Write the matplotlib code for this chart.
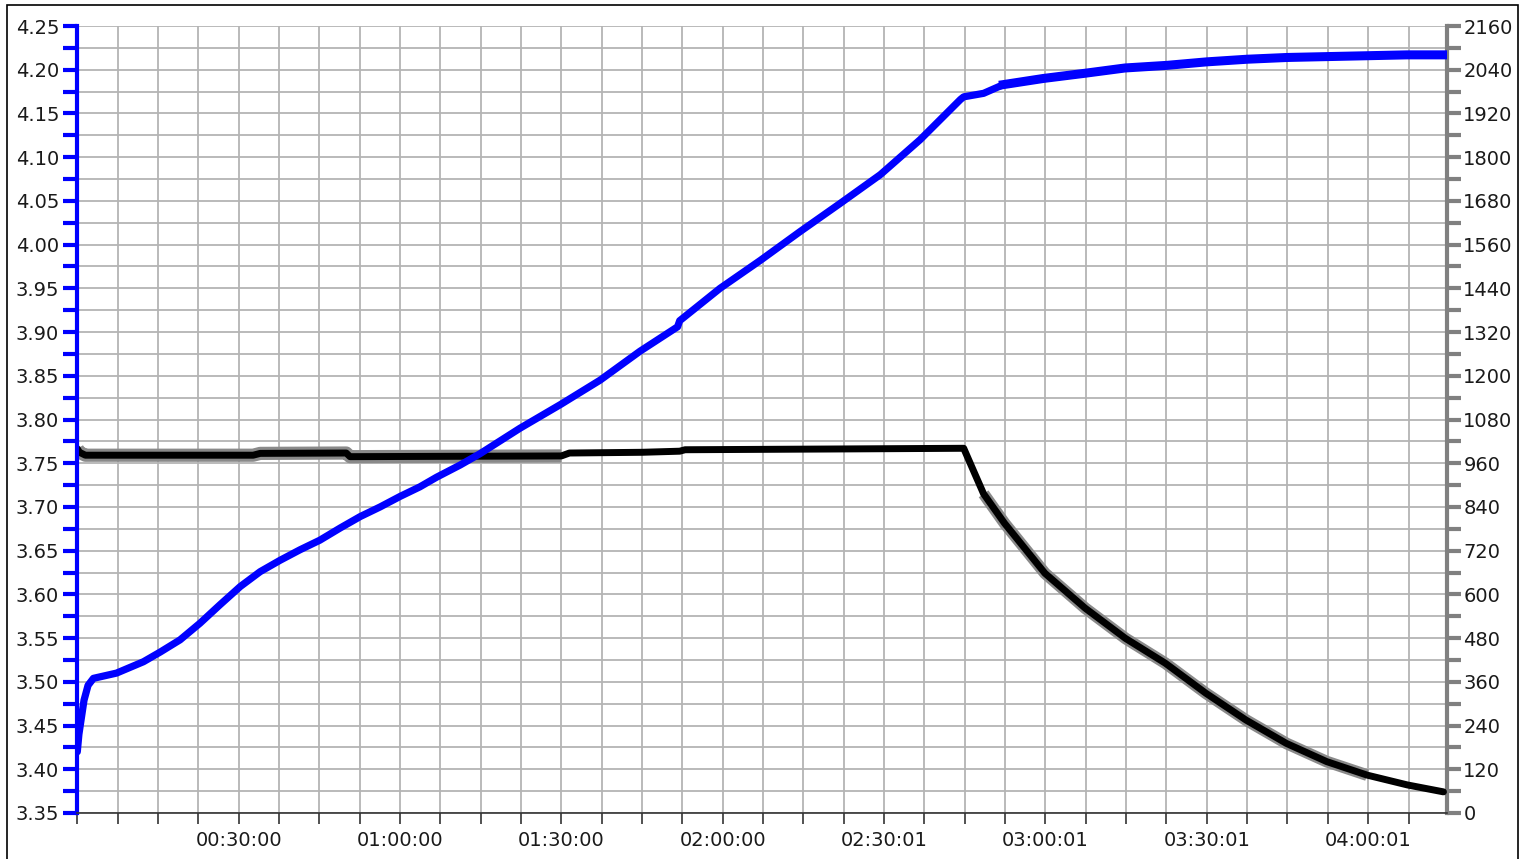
import matplotlib
matplotlib.use("Agg")
import matplotlib.pyplot as plt
from matplotlib.patches import Rectangle
from matplotlib.ticker import MultipleLocator, FixedLocator, FixedFormatter, FormatStrFormatter
import numpy as np

# ---- data (time in minutes) ----
volt_t = [0, 0.3, 1.25, 2.0, 3.0, 7.3, 12.3, 15.4, 19.1, 22.8, 26.5, 30.3, 34.0, 37.7, 41.4,
          45.1, 48.9, 52.6, 56.3, 60.0, 63.7, 66.8, 71.2, 74.9, 82.3, 89.8, 97.2, 104.6, 111.6,
          112.0, 119.5, 127.0, 134.4, 141.8, 149.3, 156.7, 164.2, 164.8, 168.5, 172.2, 179.6,
          187.4, 194.8, 202.6, 210.0, 217.5, 224.9, 232.3, 239.8, 247.2, 254.4]
volt_v = [3.42, 3.44, 3.479, 3.496, 3.504, 3.510, 3.523, 3.534, 3.548, 3.567, 3.588, 3.609,
          3.626, 3.639, 3.651, 3.662, 3.676, 3.689, 3.700, 3.712, 3.723, 3.734, 3.748, 3.761,
          3.790, 3.817, 3.845, 3.878, 3.906, 3.913, 3.950, 3.982, 4.015, 4.047, 4.080, 4.120,
          4.166, 4.169, 4.173, 4.183, 4.190, 4.196, 4.202, 4.205, 4.209, 4.212, 4.214, 4.215,
          4.216, 4.217, 4.217]

cur_t = [0, 0.4, 1.5, 20, 32.7, 34, 50, 50.7, 70, 90, 91.5, 105, 112, 113, 140, 164.8, 166.6,
         168.5, 172.4, 179.9, 187.4, 194.9, 202.3, 209.8, 217.3, 224.8, 232.3, 239.8, 247.3, 254.0]
cur_v = [1000, 990, 982, 982, 982, 987, 988, 978, 979, 980, 988, 990, 993, 997, 999, 1001, 940,
         876, 795, 658, 562, 479, 411, 329, 255, 191, 141, 104, 77, 58]

x_tick_pos = [30, 60, 90, 120, 150, 180, 210, 240]
x_tick_labels = ["00:30:00", "01:00:00", "01:30:00", "02:00:00",
                 "02:30:01", "03:00:01", "03:30:01", "04:00:01"]

# ---- figure ----
W, H = 1529, 859
fig = plt.figure(figsize=(W / 100, H / 100), dpi=100)
fig.patch.set_facecolor("white")

left, right, top, bottom = 77.3, 1446.7, 26, 813
axr = fig.add_axes([left / W, 1 - bottom / H, (right - left) / W, (bottom - top) / H])
ax = fig.add_axes(axr.get_position(), sharex=axr)

FS = 14
GRID = "#b4b4b4"
BLUE = "#0000ff"
GRAYAX = "#808080"
TXT = "#1a1a1a"

axr.set_zorder(0)
ax.set_zorder(1)
ax.patch.set_visible(False)

# lower axes: right scale, grid, current trace
axr.set_xlim(0, 254.6)
axr.set_ylim(0, 2160)
axr.yaxis.tick_right()
axr.yaxis.set_major_locator(MultipleLocator(120))
axr.yaxis.set_minor_locator(MultipleLocator(60))
axr.xaxis.set_major_locator(MultipleLocator(7.5))
axr.tick_params(axis="x", which="both", bottom=False, labelbottom=False, top=False)
axr.tick_params(axis="y", which="both", direction="out", length=10, width=3,
                color=GRAYAX, labelsize=FS, pad=2, labelcolor=TXT,
                left=False, labelleft=False, right=True, labelright=True)
axr.grid(True, which="both", axis="both", color=GRID, lw=1.3)
axr.set_axisbelow(True)
for s in ["left", "top", "bottom"]:
    axr.spines[s].set_visible(False)
axr.spines["right"].set_color(GRAYAX)
axr.spines["right"].set_linewidth(3)

ct = np.array(cur_t)
cv = np.array(cur_v)
m1 = ct <= 91
m2 = (ct >= 168) & (ct <= 240)
axr.plot(ct[m1], cv[m1], color="#8a8a8a", lw=9.5, solid_capstyle="butt", zorder=2)
axr.plot(ct[m2], cv[m2], color="#8a8a8a", lw=8.5, solid_capstyle="butt", zorder=2)
axr.plot(ct, cv, color="black", lw=5, solid_joinstyle="round", solid_capstyle="round", zorder=3)

# upper axes: left scale, voltage trace
ax.set_ylim(3.35, 4.25)
ax.set_xlim(0, 254.6)
ax.yaxis.set_major_locator(MultipleLocator(0.05))
ax.yaxis.set_minor_locator(MultipleLocator(0.025))
ax.yaxis.set_major_formatter(FormatStrFormatter("%.2f"))
ax.xaxis.set_major_locator(FixedLocator(x_tick_pos))
ax.xaxis.set_major_formatter(FixedFormatter(x_tick_labels))
ax.xaxis.set_minor_locator(MultipleLocator(7.5))
ax.tick_params(axis="y", which="both", direction="out", length=10, width=3,
               color=BLUE, labelsize=FS, pad=3, labelcolor=TXT,
               right=False, labelright=False)
ax.tick_params(axis="x", which="both", direction="out", length=8, width=1.2,
               color="#333333", labelsize=FS, pad=5, labelcolor=TXT)
ax.grid(False)
for s in ["top", "right"]:
    ax.spines[s].set_visible(False)
ax.spines["left"].set_color(BLUE)
ax.spines["left"].set_linewidth(3)
ax.spines["bottom"].set_color("#333333")
ax.spines["bottom"].set_linewidth(1.2)

vt = np.array(volt_t)
vv = np.array(volt_v)
mb = vt >= 171
ax.plot(vt[mb], vv[mb], color=BLUE, lw=6.5, solid_joinstyle="round", zorder=2)
ax.plot(vt, vv, color=BLUE, lw=5.2, solid_joinstyle="round", solid_capstyle="round", zorder=3)

# outer border
fig.patches.append(Rectangle((7 / W, -0.02), (1518 - 7) / W, 1 - 5 / H + 0.02,
                             transform=fig.transFigure, fill=False, ec="black", lw=1.2))

fig.savefig("out.png", dpi=100, facecolor="white")
